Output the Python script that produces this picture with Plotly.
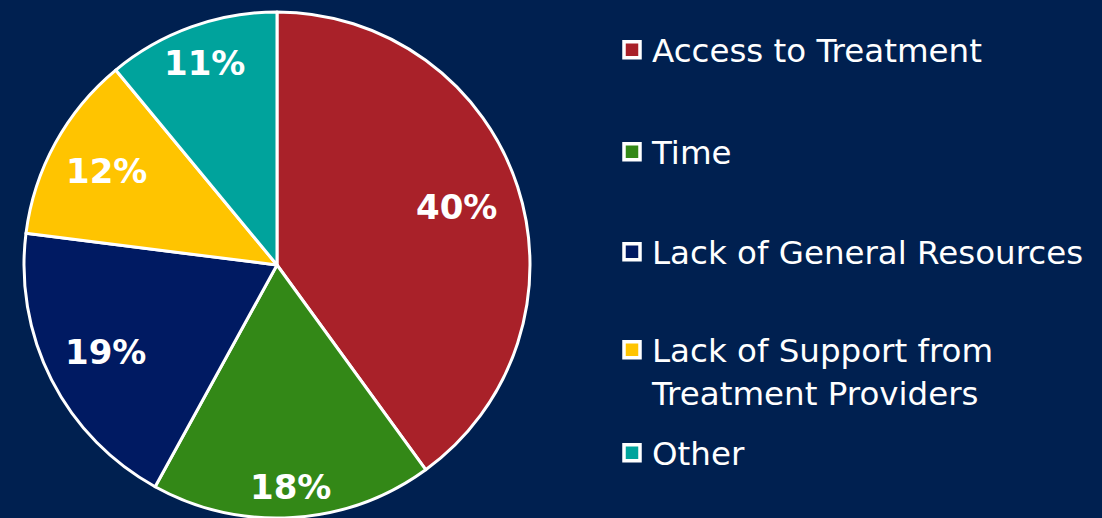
import math
import plotly.graph_objects as go

categories = ["Access to Treatment", "Time", "Lack of General Resources",
              "Lack of Support from<br>Treatment Providers", "Other"]
values = [40, 18, 19, 12, 11]
colors = ["#A92129", "#338817", "#001A62", "#FFC400", "#00A39C"]

# layout / style settings
legend_y_px = [50, 152, 252, 371, 453]
label_r = [0.745, 0.88, 0.76, 0.77, 0.85]   # radial position of % labels (fraction of radius)

BG = "#002050"
W, H = 1102, 518
FONT = "DejaVu Sans"
CX, CY, R = 277, 265, 253  # pie centre / radius in pixels

fig = go.Figure()
fig.add_trace(go.Pie(
    labels=categories, values=values, sort=False, direction="clockwise",
    rotation=0,
    marker=dict(colors=colors, line=dict(color="white", width=3)),
    textinfo="none",
    domain=dict(x=[(CX - R) / W, (CX + R) / W], y=[0, 1 - (CY - R) / H]),
    showlegend=False, hoverinfo="label+percent",
))

# percentage labels placed at each slice's mid-angle (derived from the values)
total = sum(values)
cum = 0
for v, fr in zip(values, label_r):
    mid = (cum + v / 2) / total * 2 * math.pi
    cum += v
    px = CX + fr * R * math.sin(mid)
    py = CY - fr * R * math.cos(mid)
    fig.add_annotation(
        x=px / W, y=1 - py / H, xref="paper", yref="paper",
        text=f"<b>{round(v / total * 100)}%</b>", showarrow=False,
        font=dict(family=FONT, size=34, color="white"),
        xanchor="center", yanchor="middle",
    )

for i, (cat, col, ypx) in enumerate(zip(categories, colors, legend_y_px)):
    lname = "legend" if i == 0 else f"legend{i+1}"
    fig.add_trace(go.Scatter(
        x=[None], y=[None], mode="markers", name=cat,
        marker=dict(symbol="square", size=16, color=col,
                    line=dict(color="white", width=3.5)),
        legend=lname, showlegend=True,
    ))
    fig.update_layout(**{lname: dict(
        x=612 / W, xanchor="left", y=1 - ypx / H, yanchor="middle",
        bgcolor="rgba(0,0,0,0)", valign="top",
        font=dict(family=FONT, size=32.5, color="white"),
    )})

fig.update_layout(
    width=W, height=H, margin=dict(l=0, r=0, t=0, b=0),
    paper_bgcolor=BG, plot_bgcolor=BG,
    xaxis=dict(visible=False), yaxis=dict(visible=False),
)

fig.write_html("out.html")
